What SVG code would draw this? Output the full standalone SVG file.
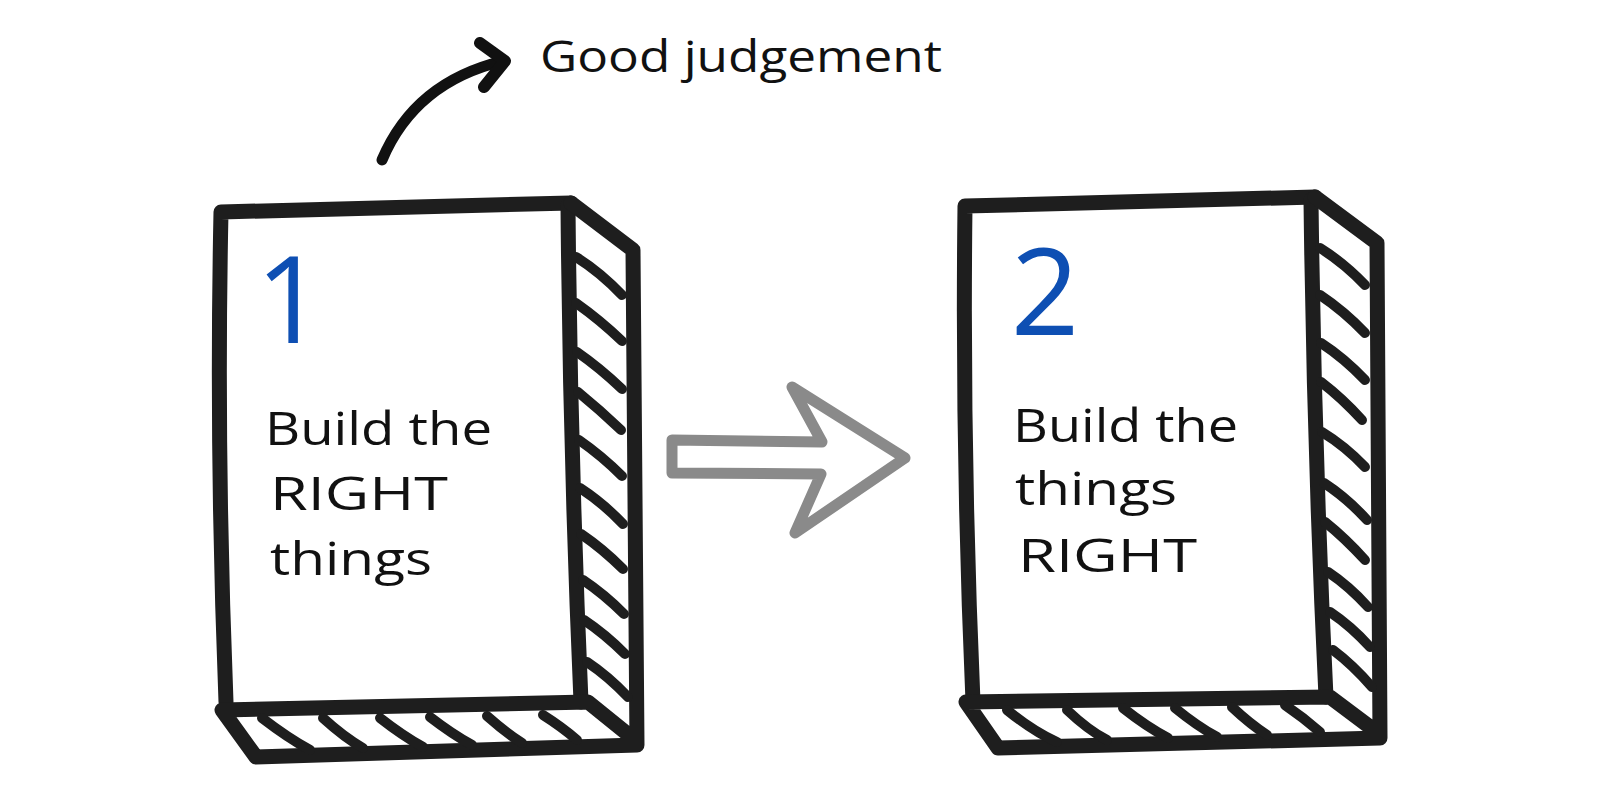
<svg xmlns="http://www.w3.org/2000/svg" width="1600" height="798" viewBox="0 0 1600 798">
<style>
.ol{fill:none;stroke:#1e1e1e;stroke-width:15;stroke-linecap:round;stroke-linejoin:round}
.ht{fill:none;stroke:#1e1e1e;stroke-width:10;stroke-linecap:round}
.lbl{font-family:"Open Sans","Noto Sans",sans-serif;font-size:45px;fill:#111}
.num{font-family:"Open Sans","Noto Sans",sans-serif;font-size:120px;font-weight:500;fill:#0e4fb3;text-anchor:middle}
.top{font-family:"Open Sans","Noto Sans",sans-serif;font-size:44px;fill:#111}
</style>
<rect width="1600" height="798" fill="#ffffff"/>
<g id="box1">
<path class="ol" d="M226,702 Q216,450 221,212 L571,203"/>
<path class="ol" d="M568,205 Q570,450 581,702"/>
<path class="ol" d="M571,203 L633,250 L637,745 L256,757 L222,710 L588,702 L635,740"/>
<g class="ht">
<path d="M576,257 Q600,272 622,295"/><path d="M576,303 Q600,320 622,341"/><path d="M577,352 Q600,368 622,389"/><path d="M578,392 Q600,410 621,430"/><path d="M579,440 Q602,456 622,476"/><path d="M580,488 Q603,503 623,524"/><path d="M581,534 Q603,549 623,569"/><path d="M583,580 Q604,594 624,614"/><path d="M584,620 Q605,634 625,654"/><path d="M587,662 Q608,676 628,697"/>
<path d="M262,718 Q288,738 310,750"/><path d="M323,718 Q345,738 363,748"/><path d="M380,718 Q403,736 423,747"/><path d="M430,717 Q452,734 472,745"/><path d="M487,716 Q505,732 522,743"/><path d="M543,715 Q562,727 577,740"/>
</g>
<text class="num" x="290" y="343">1</text>
<text class="lbl" x="265" y="445" textLength="227" lengthAdjust="spacingAndGlyphs">Build the</text>
<text class="lbl" x="270" y="510" textLength="178" lengthAdjust="spacingAndGlyphs">RIGHT</text>
<text class="lbl" x="270" y="575" textLength="162" lengthAdjust="spacingAndGlyphs">things</text>
</g>
<g id="box2">
<path class="ol" d="M973,702 Q962,450 965,206 L1315,197"/>
<path class="ol" d="M1311,200 Q1314,450 1326,697"/>
<path class="ol" d="M1315,197 L1377,243 L1380,738 L998,748 L966,702 L1330,697 L1378,733"/>
<g class="ht">
<path d="M1320,248 Q1344,263 1365,285"/><path d="M1320,295 Q1344,311 1365,333"/><path d="M1321,343 Q1344,358 1365,380"/><path d="M1321,382 Q1342,398 1362,420"/><path d="M1322,432 Q1345,446 1365,467"/><path d="M1324,483 Q1347,498 1367,520"/><path d="M1325,522 Q1345,538 1365,560"/><path d="M1328,572 Q1349,586 1368,607"/><path d="M1330,612 Q1351,626 1370,647"/><path d="M1333,650 Q1353,665 1372,687"/>
<path d="M1007,710 Q1034,732 1057,742"/><path d="M1067,710 Q1088,730 1107,740"/><path d="M1123,708 Q1147,727 1168,738"/><path d="M1175,708 Q1197,726 1217,737"/><path d="M1232,707 Q1250,724 1267,735"/><path d="M1285,705 Q1304,718 1320,732"/>
</g>
<text class="num" x="1045" y="335">2</text>
<text class="lbl" x="1013" y="442" textLength="225" lengthAdjust="spacingAndGlyphs">Build the</text>
<text class="lbl" x="1015" y="505" textLength="162" lengthAdjust="spacingAndGlyphs">things</text>
<text class="lbl" x="1018" y="572" textLength="179" lengthAdjust="spacingAndGlyphs">RIGHT</text>
</g>
<g id="label-good-judgement">
<text class="top" x="540" y="72" textLength="402" lengthAdjust="spacingAndGlyphs">Good judgement</text>
</g>
<g id="connectors">
<path d="M672,440 L822,442 L792,387 L905,458 L795,533 L821,474 L672,473 Z" fill="none" stroke="#8a8a8a" stroke-width="11" stroke-linejoin="round"/>
<path d="M382,160 Q415,82 503,61" fill="none" stroke="#111" stroke-width="11" stroke-linecap="round"/>
<path d="M480,43 L505,61 L484,87" fill="none" stroke="#111" stroke-width="12" stroke-linecap="round" stroke-linejoin="round"/>
</g>
</svg>
